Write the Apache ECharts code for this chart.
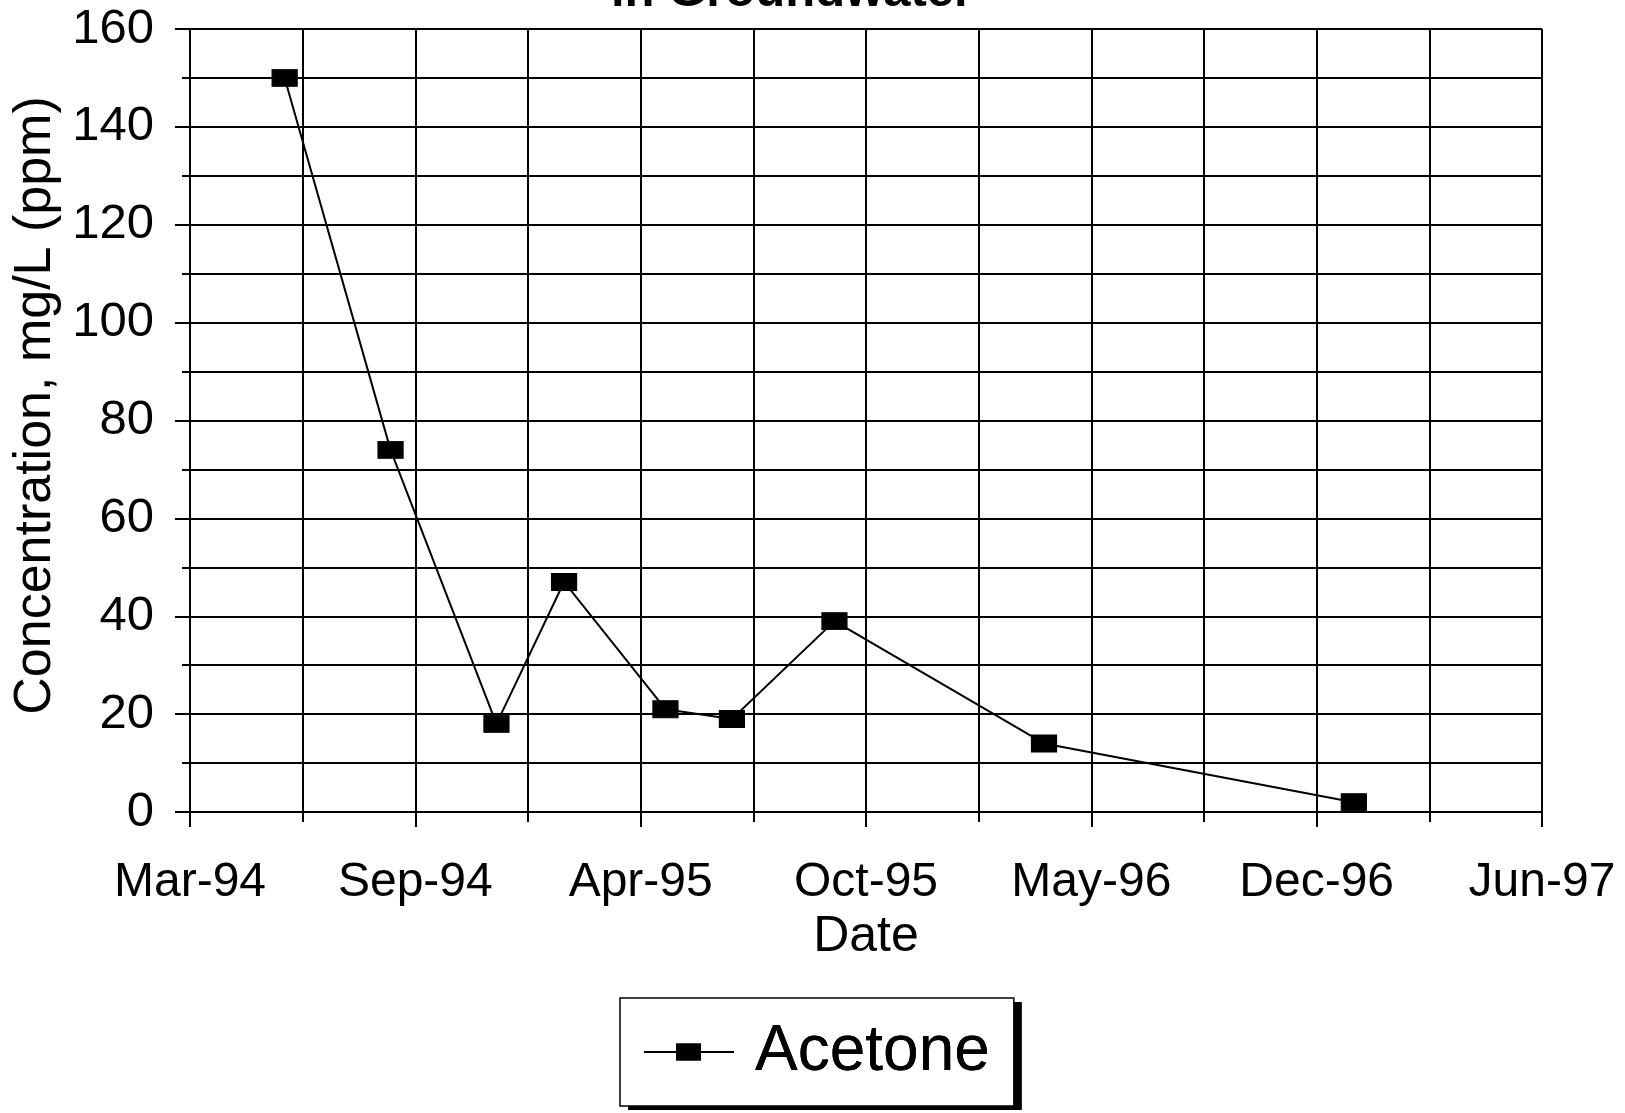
<!DOCTYPE html>
<html>
<head>
<meta charset="utf-8">
<script src="https://cdn.jsdelivr.net/npm/echarts@6/dist/echarts.min.js"></script>
<style>
html,body{margin:0;padding:0;background:#fff;}
#chart{width:1625px;height:1113px;}
</style>
</head>
<body>
<div id="chart"></div>
<script>
// ---- data ----
const sampleDates = ['1994-06-02','1994-09-04','1994-12-07','1995-02-05','1995-05-06','1995-07-04','1995-10-03','1996-04-06','1997-01-06'];
const acetone = [150, 74, 18, 47, 21, 19, 39, 14, 2];
const axisStartDate = '1994-03-10';   // first x tick (Mar-94)
const axisEndDays = 1200;             // last x tick (Jun-97)
const tickDays = 200;                 // major unit, days
const yTicks = [0, 20, 40, 60, 80, 100, 120, 140, 160];
const monthNames = ['Jan','Feb','Mar','Apr','May','Jun','Jul','Aug','Sep','Oct','Nov','Dec'];

const DAY = 86400000;
const t0 = Date.parse(axisStartDate + 'T00:00:00Z');
const points = sampleDates.map((d, i) => [(Date.parse(d + 'T00:00:00Z') - t0) / DAY, acetone[i]]);

function fmtDate(v) {
  const d = new Date(t0 + v * DAY);
  return monthNames[d.getUTCMonth()] + '-' + String(d.getUTCFullYear()).slice(2);
}

const font = 'Liberation Sans, Arial, sans-serif';
const legendIcon = 'path://M0,7.5L32,7.5L32,0L57,0L57,7.5L90,7.5L90,9.5L57,9.5L57,17L32,17L32,9.5L0,9.5Z';
const legendBase = {
  left: 620,
  top: 998,
  orient: 'horizontal',
  padding: [22, 24, 22, 24],
  itemWidth: 90,
  itemHeight: 17,
  textStyle: {fontFamily: font, fontSize: 64, color: '#000', padding: [0, 0, 0, 16]},
  data: [{name: 'Acetone', icon: legendIcon}]
};

const chart = echarts.init(document.getElementById('chart'));
chart.setOption({
  animation: false,
  backgroundColor: '#fff',
  title: {
    text: 'in Groundwater',
    left: 606,
    top: -37,
    textStyle: {fontFamily: font, fontSize: 49, fontWeight: 'bold', color: '#000'}
  },
  grid: {left: 190, right: 83, top: 29, bottom: 301, containLabel: false},
  xAxis: {
    type: 'value',
    min: 0,
    max: axisEndDays,
    interval: tickDays,
    name: 'Date',
    nameLocation: 'middle',
    nameGap: 100,
    nameTextStyle: {fontFamily: font, fontSize: 50, color: '#000'},
    axisLine: {show: true, lineStyle: {color: '#000', width: 2}},
    axisTick: {show: true, length: 15, lineStyle: {color: '#000', width: 2}},
    minorTick: {show: true, splitNumber: 2, length: 10, lineStyle: {color: '#000', width: 2}},
    splitLine: {show: true, lineStyle: {color: '#000', width: 2}},
    minorSplitLine: {show: true, lineStyle: {color: '#000', width: 2}},
    axisLabel: {margin: 47, fontFamily: font, fontSize: 48, color: '#000', formatter: fmtDate}
  },
  yAxis: {
    type: 'value',
    min: yTicks[0],
    max: yTicks[yTicks.length - 1],
    interval: 20,
    name: 'Concentration, mg/L (ppm)',
    nameLocation: 'middle',
    nameGap: 128,
    nameTextStyle: {fontFamily: font, fontSize: 52, color: '#000', padding: [0, 0, 0, 30]},
    axisLine: {show: true, lineStyle: {color: '#000', width: 2}},
    axisTick: {show: true, length: 15, lineStyle: {color: '#000', width: 2}},
    minorTick: {show: true, splitNumber: 2, length: 8, lineStyle: {color: '#000', width: 2}},
    splitLine: {show: true, lineStyle: {color: '#000', width: 2}},
    minorSplitLine: {show: true, lineStyle: {color: '#000', width: 2}},
    axisLabel: {margin: 36, fontFamily: font, fontSize: 49, color: '#000'}
  },
  legend: [
    Object.assign({}, legendBase, {
      z: 4,
      backgroundColor: '#fff',
      borderWidth: 0,
      shadowColor: '#000',
      shadowBlur: 0,
      shadowOffsetX: 8,
      shadowOffsetY: 4
    }),
    Object.assign({}, legendBase, {
      z: 5,
      backgroundColor: 'rgba(0,0,0,0)',
      borderColor: '#000',
      borderWidth: 1.5
    })
  ],
  series: [{
    name: 'Acetone',
    type: 'line',
    data: points,
    symbol: 'rect',
    symbolSize: [25, 17],
    showSymbol: true,
    lineStyle: {color: '#000', width: 2},
    itemStyle: {color: '#000', borderColor: '#000'}
  }]
});
</script>
</body>
</html>
